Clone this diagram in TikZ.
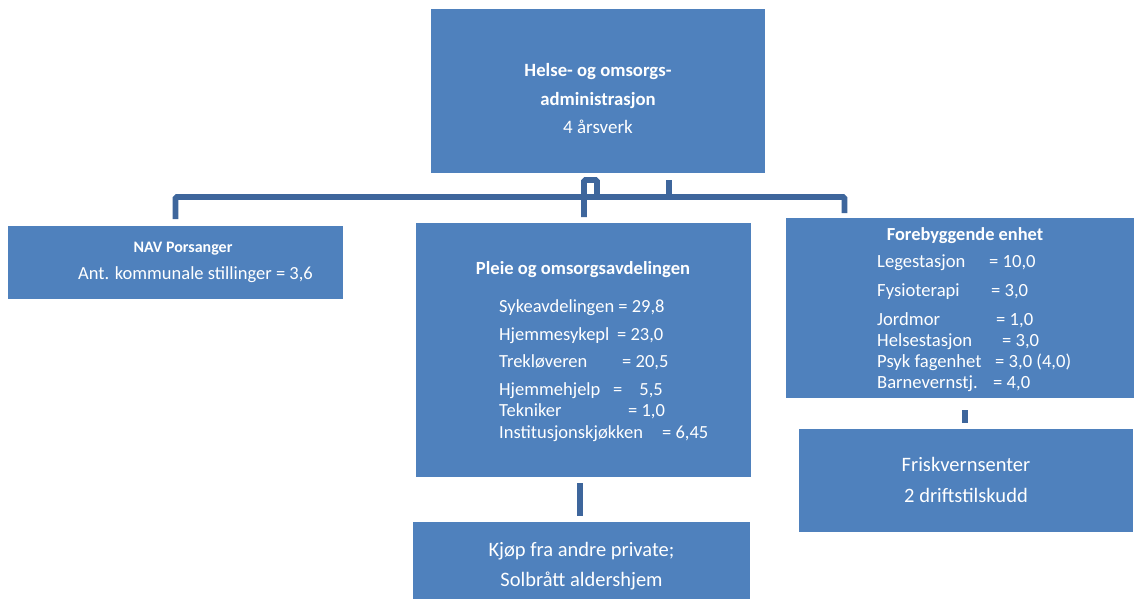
\documentclass[tikz,border=0pt]{standalone}
\usepackage{fontspec}
\setmainfont{Carlito}
\usepackage{tikz}
\usetikzlibrary{positioning}
\definecolor{unitblue}{RGB}{79,129,189}
\definecolor{linkblue}{RGB}{62,102,156}

\begin{document}
\begin{tikzpicture}[x=1pt,y=-1pt,
    unit node/.style={rectangle,fill=unitblue,anchor=north west,inner sep=0pt},
    head text/.style={text=white,inner sep=0pt,align=center,anchor=base},
    list text/.style={text=white,inner sep=0pt,align=left,anchor=base west},
    link/.style={draw=linkblue,line width=5.7pt,rounded corners=1.5pt}]
\useasboundingbox[fill=white] (0,0) rectangle (1134,599);

\node[unit node,minimum width=334pt,minimum height=164pt] (adm) at (431,9) {};
\node[unit node,minimum width=335pt,minimum height=73pt] (nav) at (8,226) {};
\node[unit node,minimum width=335pt,minimum height=254pt] (pleie) at (416,223) {};
\node[unit node,minimum width=348pt,minimum height=180pt] (fore) at (786,218) {};
\node[unit node,minimum width=334pt,minimum height=103pt] (frisk) at (799,429) {};
\node[unit node,minimum width=337pt,minimum height=77pt] (kjop) at (413,522) {};

\node[head text,font=\bfseries\fontsize{18.7}{28}\selectfont] (admT) at (598,133)
  {Helse- og omsorgs-\\administrasjon\\\mdseries\fontsize{19}{28}\selectfont 4 årsverk};

\node[head text,font=\bfseries\fontsize{16}{18}\selectfont] (navT) at (183,252) {NAV Porsanger};
\node[head text,font=\fontsize{18.5}{22}\selectfont] (navS) at (195.5,279) {Ant. kommunale stillinger = 3,6};

\node[head text,font=\bfseries\fontsize{18.6}{21}\selectfont] (pleieT) at (583,274) {Pleie og omsorgsavdelingen};
\node[list text,font=\fontsize{18.5}{21.5}\selectfont] (pleieL) at (499,438)
  {Sykeavdelingen = 29,8\\[6.5pt]
   \makebox[118pt][l]{Hjemmesykepl}= 23,0\\[5.5pt]
   \makebox[123pt][l]{Trekløveren}= 20,5\\[6.5pt]
   \makebox[114pt][l]{Hjemmehjelp}=\hspace{17pt}5,5\\
   \makebox[129pt][l]{Tekniker}= 1,0\\
   \makebox[163pt][l]{Institusjonskjøkken}= 6,45};

\node[head text,font=\bfseries\fontsize{18.4}{21}\selectfont] (foreT) at (965,240) {Forebyggende enhet};
\node[list text,font=\fontsize{18.6}{20.7}\selectfont] (foreL) at (877,388)
  {\makebox[112pt][l]{Legestasjon}= 10,0\\[8.3pt]
   \makebox[114pt][l]{Fysioterapi}= 3,0\\[8.3pt]
   \makebox[119pt][l]{Jordmor}= 1,0\\
   \makebox[125pt][l]{Helsestasjon}= 3,0\\
   \makebox[118pt][l]{Psyk fagenhet}= 3,0 (4,0)\\
   \makebox[116pt][l]{Barnevernstj.}= 4,0};

\node[head text,font=\fontsize{20.5}{31}\selectfont] (friskT) at (966,502) {Friskvernsenter\\2 driftstilskudd};
\node[head text,font=\fontsize{20.5}{30}\selectfont] (kjopT) at (581.5,586) {Kjøp fra andre private;\\Solbrått aldershjem};

\coordinate (busL) at (175.5,197);
\coordinate (busM) at (669,197);
\coordinate (busR) at (844.5,197);
\coordinate (kink) at (597,197);
\coordinate (drop) at (584,180);

\draw[link] ([yshift=7pt]nav.north -| busL) |- (busR) -- ([yshift=5pt]fore.north -| busR);
\draw[link] ([yshift=-7pt]adm.south -| busM) -- (busM);
\draw[link] (kink) |- (drop) -- ([yshift=6pt]drop |- pleie.north);
\draw[link] ([xshift=-3.5pt,yshift=-6pt]pleie.south) -- ([xshift=-1.5pt,yshift=6pt]kjop.north);
\draw[link] ([xshift=5pt,yshift=-12pt]fore.south) -- ([xshift=-1pt,yshift=6pt]frisk.north);
\end{tikzpicture}
\end{document}
